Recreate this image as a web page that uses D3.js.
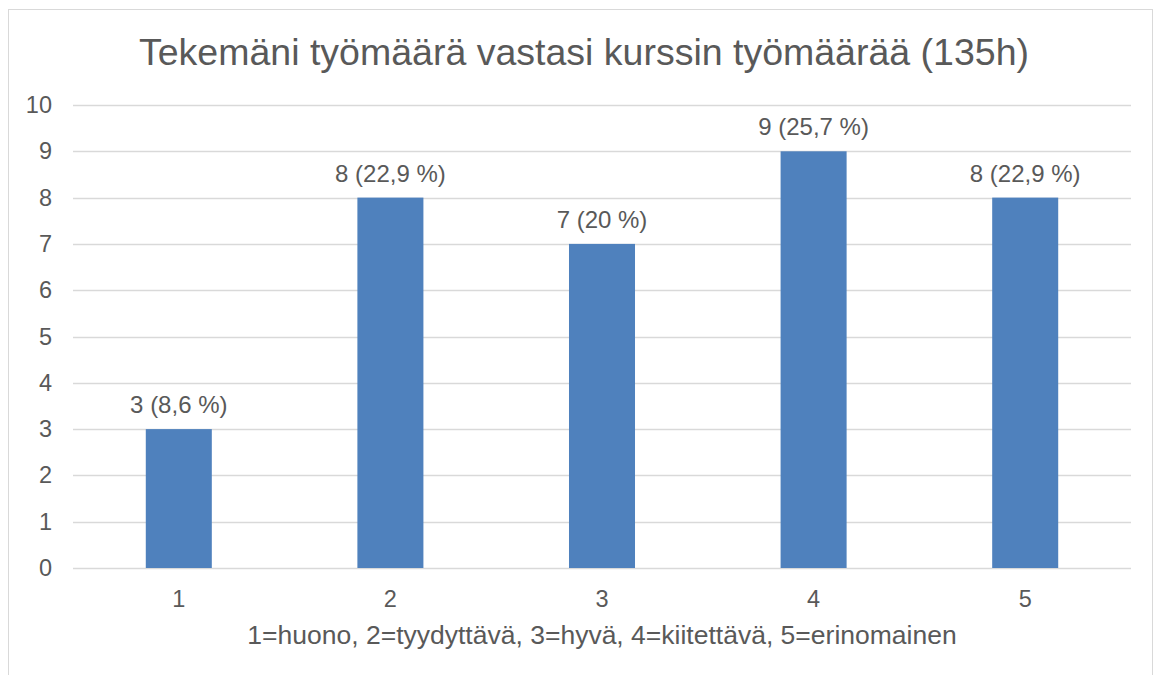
<!DOCTYPE html>
<html>
<head>
<meta charset="utf-8">
<script src="https://cdn.jsdelivr.net/npm/d3@7"></script>
<style>
  body { margin: 0; background: #fff; }
  text { font-family: "Liberation Sans", Arial, sans-serif; fill: #595959; }
</style>
</head>
<body>
<div id="chart"></div>
<script>
// data
var categories = ["1", "2", "3", "4", "5"];
var counts = [3, 8, 7, 9, 8];
var percentLabels = ["8,6 %", "22,9 %", "20 %", "25,7 %", "22,9 %"];
var yTicks = [0, 1, 2, 3, 4, 5, 6, 7, 8, 9, 10];
var chartTitle = "Tekemäni työmäärä vastasi kurssin työmäärää (135h)";
var xTitle = "1=huono, 2=tyydyttävä, 3=hyvä, 4=kiitettävä, 5=erinomainen";

var svgWidth = 1160;
var svgHeight = 675;

var margin = { top: 105, right: 29, bottom: 107, left: 73 };
var width = svgWidth - margin.left - margin.right;
var height = svgHeight - margin.top - margin.bottom;

var svg = d3.select("#chart")
  .append("svg")
  .attr("width", svgWidth)
  .attr("height", svgHeight);

// chart border
svg.append("rect")
  .attr("x", 8.5)
  .attr("y", 9.5)
  .attr("width", 1144)
  .attr("height", 700)
  .attr("fill", "none")
  .attr("stroke", "#d9d9d9")
  .attr("stroke-width", 1);

svg.append("text")
  .attr("x", 584)
  .attr("y", 65)
  .attr("text-anchor", "middle")
  .style("font-size", "37.5px")
  .text(chartTitle);

var chartGroup = svg.append("g")
  .attr("transform", `translate(${margin.left}, ${margin.top})`);

var xScale = d3.scaleBand()
  .domain(categories)
  .range([0, width])
  .padding(0);

var yScale = d3.scaleLinear()
  .domain([0, 10])
  .range([height, 0]);

// gridlines
chartGroup.selectAll(".grid")
  .data(yTicks)
  .enter()
  .append("line")
  .attr("x1", 0)
  .attr("x2", width)
  .attr("y1", d => Math.round(yScale(d)) + 0.5)
  .attr("y2", d => Math.round(yScale(d)) + 0.5)
  .attr("stroke", "#d9d9d9")
  .attr("stroke-width", 1.5);

// y axis labels
var leftAxis = d3.axisLeft(yScale).tickValues(yTicks).tickSize(0).tickPadding(21);
var yAxis = chartGroup.append("g").call(leftAxis);
yAxis.select(".domain").remove();
yAxis.selectAll("text")
  .style("font-size", "23.5px")
  .style("font-family", "Liberation Sans, Arial, sans-serif")
  .attr("fill", "#595959");

// x axis labels
var bottomAxis = d3.axisBottom(xScale).tickSize(0).tickPadding(22);
var xAxis = chartGroup.append("g")
  .attr("transform", `translate(0, ${height})`)
  .call(bottomAxis);
xAxis.select(".domain").remove();
xAxis.selectAll("text")
  .style("font-size", "23.5px")
  .style("font-family", "Liberation Sans, Arial, sans-serif")
  .attr("fill", "#595959");

// bars
var barWidth = xScale.bandwidth() * 0.312;
chartGroup.selectAll(".bar")
  .data(counts)
  .enter()
  .append("rect")
  .attr("x", (d, i) => xScale(categories[i]) + (xScale.bandwidth() - barWidth) / 2)
  .attr("y", d => yScale(d))
  .attr("width", barWidth)
  .attr("height", d => height - yScale(d))
  .attr("fill", "#4f81bd");

// data labels
chartGroup.selectAll(".label")
  .data(counts)
  .enter()
  .append("text")
  .attr("x", (d, i) => xScale(categories[i]) + xScale.bandwidth() / 2)
  .attr("y", d => yScale(d) - 16)
  .attr("text-anchor", "middle")
  .style("font-size", "24px")
  .text((d, i) => `${d} (${percentLabels[i]})`);

// x axis title
svg.append("text")
  .attr("x", 602)
  .attr("y", 644)
  .attr("text-anchor", "middle")
  .style("font-size", "26.5px")
  .text(xTitle);
</script>
</body>
</html>
